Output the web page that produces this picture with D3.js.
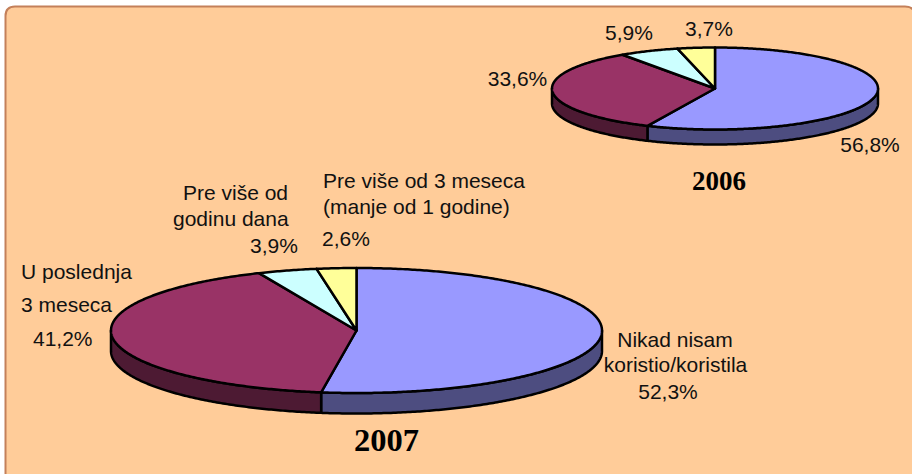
<!DOCTYPE html>
<html>
<head>
<meta charset="utf-8">
<style>
    html, body { margin: 0; padding: 0; background: #fff; }
    svg { display: block; }
    text { font-family: "Liberation Sans", Arial, sans-serif; font-size: 21px; fill: #111; }
    .title { font-family: "Liberation Serif", serif; font-weight: bold; fill: #000; }
</style>
</head>
<body>
<svg width="912" height="474"></svg>
<script src="https://cdnjs.cloudflare.com/ajax/libs/d3/7.8.5/d3.min.js"></script>
<script>
'use strict';

const VALUES_2006 = [56.8, 33.6, 5.9, 3.7];
const VALUES_2007 = [52.3, 41.2, 3.9, 2.6];
const TOP_COLORS = ['#9999ff', '#993366', '#ccffff', '#ffff99'];
const SIDE_COLORS = ['#4d4d80', '#4d1a33', '#668080', '#80804d'];

const LABELS_2006 = ['56,8%', '33,6%', '5,9%', '3,7%'];
const LABELS_2007 = [
    ['Nikad nisam', 'koristio/koristila', '52,3%'],
    ['U poslednja', '3 meseca', '41,2%'],
    ['Pre više od', 'godinu dana', '3,9%'],
    ['Pre više od 3 meseca', '(manje od 1 godine)', '2,6%'],
];

const svg = d3.select('svg');

// panel behind both pies, runs off the right and bottom of the picture
svg.append('path')
    .attr('d', 'M5.5,480 V16 Q5.5,6.5 15,6.5 H905 Q915,6.5 915,16 V480 Z')
    .attr('fill', '#ffcc99')
    .attr('stroke', '#c4805a')
    .attr('stroke-width', 2);

const pie = d3.pie().sort(null);

// one 3d pie: cx, cy, rx, ry on screen, depth is the height of the wall
const drawPie = (values, cx, cy, rx, ry, depth) => {
    const xScale = d3.scaleLinear().domain([-1, 1]).range([cx - rx, cx + rx]);
    const yScale = d3.scaleLinear().domain([-1, 1]).range([cy - ry, cy + ry]);
    const line = d3.line();
    const ringX = (a) => xScale(Math.sin(a));
    const ringY = (a) => yScale(-Math.cos(a));
    const g = svg.append('g')
        .attr('stroke', '#000')
        .attr('stroke-width', 2.5)
        .attr('stroke-linejoin', 'round');

    pie(values).forEach((d, i) => {
        // wall, only the part facing us
        const start = Math.max(d.startAngle, Math.PI / 2);
        const end = Math.min(d.endAngle, Math.PI * 1.5);
        if (end <= start) return;
        const angles = d3.range(start, end, 0.01).concat(end);
        const upper = angles.map((a) => [ringX(a), ringY(a)]);
        const lower = angles.map((a) => [ringX(a), ringY(a) + depth]).reverse();
        g.append('path')
            .attr('d', `${line(upper.concat(lower))}Z`)
            .attr('fill', SIDE_COLORS[i]);
    });

    pie(values).forEach((d, i) => {
        const angles = d3.range(d.startAngle, d.endAngle, 0.01).concat(d.endAngle);
        const rim = angles.map((a) => [ringX(a), ringY(a)]);
        g.append('path')
            .attr('d', `${line([[xScale(0), yScale(0)], ...rim])}Z`)
            .attr('fill', TOP_COLORS[i]);
    });
};

drawPie(VALUES_2007, 356.5, 330.5, 245.5, 62.5, 20.5);
drawPie(VALUES_2006, 715, 88.5, 163, 41, 15);

const addText = (str, x, y, anchor = 'middle') => svg.append('text')
    .attr('x', x)
    .attr('y', y)
    .attr('text-anchor', anchor)
    .text(str);

// 2006 labels
addText(LABELS_2006[0], 870, 152);
addText(LABELS_2006[1], 517.5, 86);
addText(LABELS_2006[2], 629, 40);
addText(LABELS_2006[3], 709, 36);

// 2007 labels
addText(LABELS_2007[0][0], 675, 347);
addText(LABELS_2007[0][1], 675.5, 372);
addText(LABELS_2007[0][2], 668, 399);

addText(LABELS_2007[1][0], 21, 279, 'start');
addText(LABELS_2007[1][1], 21, 312, 'start');
addText(LABELS_2007[1][2], 33, 346, 'start');

addText(LABELS_2007[2][0], 183, 200, 'start');
addText(LABELS_2007[2][1], 173, 226, 'start');
addText(LABELS_2007[2][2], 250, 253, 'start');

addText(LABELS_2007[3][0], 323, 188, 'start');
addText(LABELS_2007[3][1], 323, 214, 'start');
addText(LABELS_2007[3][2], 322, 246, 'start');

// year titles
addText('2006', 719, 190).attr('class', 'title').style('font-size', '27px');
addText('2007', 386.5, 451).attr('class', 'title').style('font-size', '32.5px');
</script>
</body>
</html>
